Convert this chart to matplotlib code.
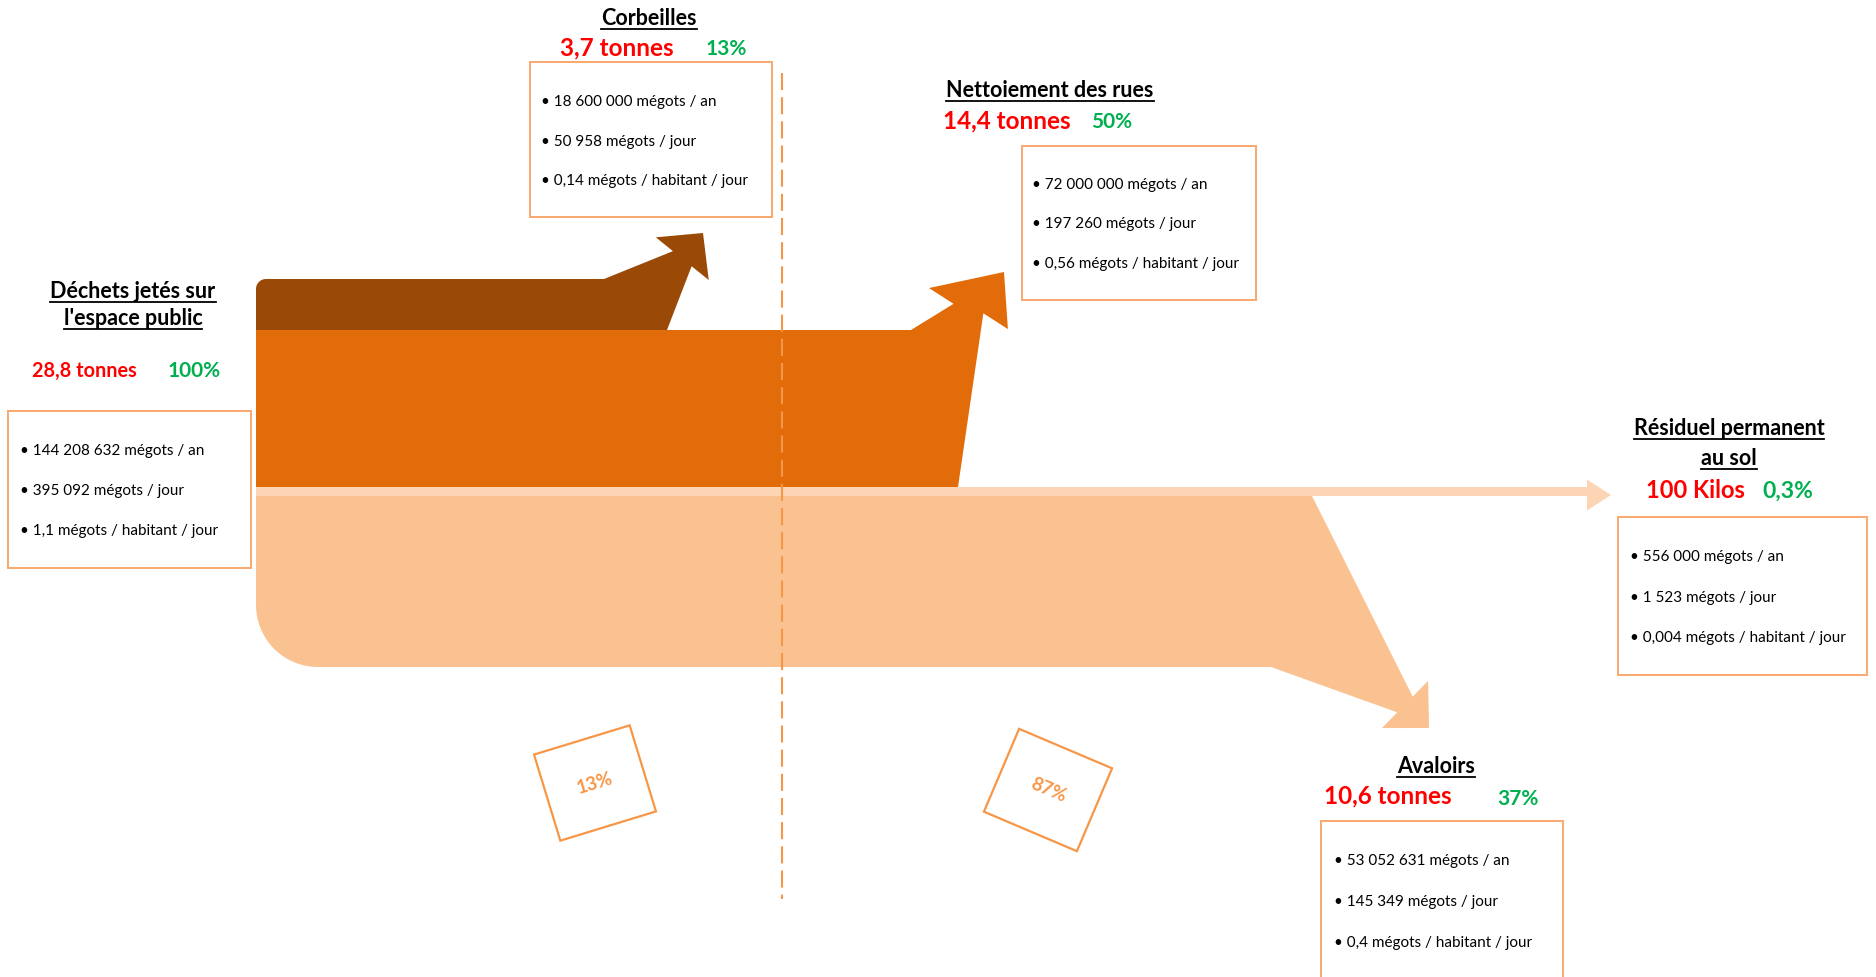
import numpy as np
import matplotlib
matplotlib.use("Agg")
import matplotlib.pyplot as plt
from matplotlib.patches import Polygon
from matplotlib.lines import Line2D

plt.rcParams['font.family'] = ['Lato', 'DejaVu Sans']

# ---------------- data ----------------
node_titles = [["Déchets jetés sur", "l'espace public"], ["Corbeilles"], ["Nettoiement des rues"],
               ["Résiduel permanent", "au sol"], ["Avaloirs"]]
masses = ["28,8 tonnes", "3,7 tonnes", "14,4 tonnes", "100 Kilos", "10,6 tonnes"]
shares = ["100%", "13%", "50%", "0,3%", "37%"]
megots_an = ["144 208 632", "18 600 000", "72 000 000", "556 000", "53 052 631"]
megots_jour = ["395 092", "50 958", "197 260", "1 523", "145 349"]
megots_hab = ["1,1", "0,14", "0,56", "0,004", "0,4"]
split_labels = ["13%", "87%"]

# ---------------- layout (pixel space, y downwards) ----------------
W, H = 1876, 977
X0 = 256
RED, GREEN, ORANGE_LINE, BOX_EDGE = '#FF0000', '#00B050', '#F79646', '#F8A86C'

node_layout = [
    dict(cx=133, tb=[298, 325], m=(84, 377, 14.3), s=(194, 377, 15), box=(8, 411, 251, 568), bx=20, bb=[455, 495, 535]),
    dict(cx=649, tb=[25], m=(617, 55, 17.5), s=(726, 55, 15), box=(530, 62, 772, 217), bx=541, bb=[106, 146, 185]),
    dict(cx=1050, tb=[97], m=(1007, 128, 17.5), s=(1112, 128, 15), box=(1022, 146, 1256, 300), bx=1032, bb=[189, 228, 268]),
    dict(cx=1729, tb=[435, 465], m=(1695, 498, 17), s=(1788, 498, 16.5), box=(1618, 517, 1867, 675), bx=1630, bb=[561, 602, 642]),
    dict(cx=1436, tb=[773], m=(1388, 803, 17.5), s=(1518, 805, 15), box=(1321, 821, 1563, 1000), bx=1334, bb=[865, 906, 947]),
]

# hl: head length, hh: head half width, nh: neck half width, sk/nsk: skew of barbs / neck along the direction
flows = [
    dict(top=496, bot=667, xt=1312, xb=1271, tip=(1429, 728), ang=44.4, hl=33.6, hh=33, nh=11, sk=0, nsk=0,
         rt=0, rb=62, color='#FAC191'),
    dict(top=330, bot=487, xt=911, xb=958, tip=(1004, 272), ang=-45.8, hl=51, hh=42.6, nh=14, sk=12.8, nsk=7,
         rt=0, rb=0, color='#E36C0A'),
    dict(top=279, bot=330, xt=604, xb=667, tip=(703, 233), ang=-51.1, hl=33, hh=34, nh=12, sk=0, nsk=0,
         rt=10, rb=0, color='#9A4A06'),
    dict(top=487, bot=496, xt=1587, xb=1587, tip=(1611, 495), ang=0, hl=24, hh=15.5, nh=4.5, sk=0, nsk=0,
         rt=0, rb=0, color='#FCD5B5'),
]

split_layout = [dict(cx=595, cy=783, w=100, h=90, ang=17), dict(cx=1048, cy=790, w=101, h=90, ang=-23)]
divider = dict(x=782, y0=73, y1=899)

fig = plt.figure(figsize=(W / 100, H / 100), dpi=100)
ax = fig.add_axes([0, 0, 1, 1])
ax.set_xlim(0, W)
ax.set_ylim(H, 0)
ax.axis('off')


def arc(cx, cy, r, a0, a1, n=20):
    t = np.radians(np.linspace(a0, a1, n))
    return list(zip(cx + r * np.cos(t), cy + r * np.sin(t)))


def flow_polygon(f):
    d = np.array([np.cos(np.radians(f['ang'])), np.sin(np.radians(f['ang']))])
    p = np.array([-d[1], d[0]])
    tip = np.array(f['tip'], float)
    base = tip - d * f['hl']
    pts = [(f['xb'], f['bot'])]
    if f['rb']:
        pts += arc(X0 + f['rb'], f['bot'] - f['rb'], f['rb'], 90, 180)
    else:
        pts.append((X0, f['bot']))
    if f['rt']:
        pts += arc(X0 + f['rt'], f['top'] + f['rt'], f['rt'], 180, 270)
    else:
        pts.append((X0, f['top']))
    pts.append((f['xt'], f['top']))
    pts.append(tuple(base - p * f['nh'] - d * f['nsk']))
    pts.append(tuple(base - p * f['hh'] - d * f['sk']))
    pts.append(tuple(tip))
    pts.append(tuple(base + p * f['hh'] + d * f['sk']))
    pts.append(tuple(base + p * f['nh'] + d * f['nsk']))
    return pts


for i, f in enumerate(flows):
    ax.add_patch(Polygon(flow_polygon(f), closed=True, facecolor=f['color'], edgecolor='none', zorder=1 + i))

# divider dashed line
ln = Line2D([divider['x'], divider['x']], [divider['y0'], divider['y1']], color=ORANGE_LINE, lw=1.5, zorder=10)
ln.set_dashes((8.2, 3.4))
ax.add_line(ln)

# split boxes
for lab, s in zip(split_labels, split_layout):
    a = np.radians(s['ang'])
    u = np.array([np.cos(a), -np.sin(a)])
    v = np.array([np.sin(a), np.cos(a)])
    c = np.array([s['cx'], s['cy']])
    corners = [c - u * s['w'] / 2 - v * s['h'] / 2, c + u * s['w'] / 2 - v * s['h'] / 2,
               c + u * s['w'] / 2 + v * s['h'] / 2, c - u * s['w'] / 2 + v * s['h'] / 2]
    ax.add_patch(Polygon(corners, closed=True, facecolor='white', edgecolor=ORANGE_LINE, lw=1.6, zorder=11))
    ax.text(s['cx'], s['cy'], lab, rotation=s['ang'], rotation_mode='anchor', ha='center', va='center',
            fontsize=13.5, fontweight='bold', color=ORANGE_LINE, zorder=12)

# nodes
titles = []
for i, L in enumerate(node_layout):
    for line, yb in zip(node_titles[i], L['tb']):
        t = ax.text(L['cx'], yb, line, ha='center', va='baseline', fontsize=15.5, fontweight='bold',
                    color='black', zorder=12)
        titles.append((t, yb))
    mx, my, ms = L['m']
    ax.text(mx, my, masses[i], ha='center', va='baseline', fontsize=ms, fontweight='bold', color=RED, zorder=12)
    sx, sy, ss = L['s']
    ax.text(sx, sy, shares[i], ha='center', va='baseline', fontsize=ss, fontweight='bold', color=GREEN, zorder=12)
    x0, y0, x1, y1 = L['box']
    ax.add_patch(Polygon([(x0, y0), (x1, y0), (x1, y1), (x0, y1)], closed=True, facecolor='white',
                         edgecolor=BOX_EDGE, lw=1.4, zorder=11))
    lines = [f"\u2022 {megots_an[i]} mégots / an", f"\u2022 {megots_jour[i]} mégots / jour",
             f"\u2022 {megots_hab[i]} mégots / habitant / jour"]
    for s_, yb in zip(lines, L['bb']):
        ax.text(L['bx'], yb, s_, ha='left', va='baseline', fontsize=11, color='black', zorder=12)

# underlines
fig.canvas.draw()
r = fig.canvas.get_renderer()
inv = ax.transData.inverted()
for t, yb in titles:
    bb = t.get_window_extent(r)
    xa = inv.transform((bb.x0, bb.y0))[0]
    xb_ = inv.transform((bb.x1, bb.y0))[0]
    ax.add_line(Line2D([xa, xb_], [yb + 3.5, yb + 3.5], color='black', lw=1.3, zorder=12))

fig.savefig('out.png', dpi=100)
